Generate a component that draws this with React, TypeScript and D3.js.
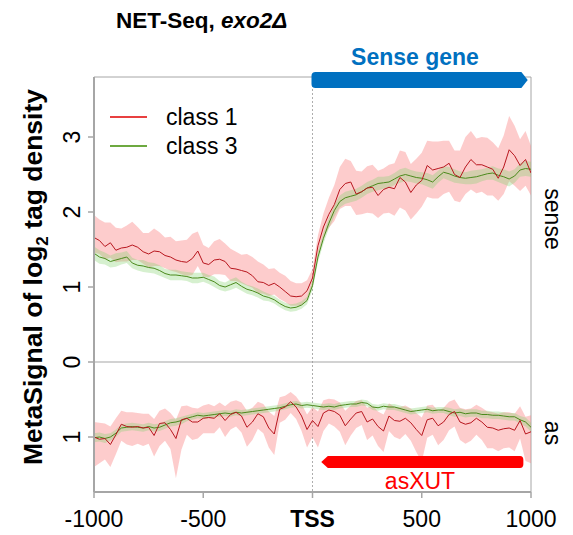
import React from "react";
import * as d3 from "d3";

// x positions: -1000..1000 step 25 (81 points)
const positions: number[] = d3.range(81).map((i) => -1000 + 25 * i);
const xTicks = [-1000, -500, 0, 500, 1000];
const xTickLabels = ["-1000", "-500", "TSS", "500", "1000"];
const senseTicks = [0, 1, 2, 3];
const asTicks = [1];

// Sense panel, class 1 mean and band offsets
const c1Sense = [1.66,1.62,1.54,1.59,1.49,1.52,1.53,1.56,1.53,1.47,
  1.44,1.48,1.47,1.42,1.40,1.36,1.34,1.33,1.38,1.48,
  1.32,1.30,1.36,1.37,1.34,1.25,1.24,1.22,1.20,1.15,
  1.07,1.06,1.02,1.05,1.00,0.94,0.88,0.87,0.88,0.95,
  1.12,1.55,1.80,1.97,2.10,2.30,2.38,2.40,2.24,2.27,
  2.32,2.33,2.22,2.30,2.33,2.31,2.46,2.40,2.26,2.36,
  2.42,2.62,2.56,2.58,2.60,2.65,2.50,2.46,2.60,2.70,
  2.63,2.63,2.60,2.57,2.45,2.60,2.83,2.75,2.62,2.70,2.52];
const c1SenseUp = [0.30,0.28,0.32,0.27,0.30,0.26,0.29,0.31,0.27,0.25,
  0.28,0.30,0.26,0.24,0.27,0.25,0.28,0.30,0.33,0.26,
  0.24,0.22,0.25,0.27,0.24,0.26,0.23,0.21,0.24,0.25,
  0.27,0.24,0.22,0.20,0.19,0.21,0.20,0.18,0.17,0.14,
  0.12,0.14,0.18,0.22,0.26,0.30,0.33,0.28,0.31,0.27,
  0.29,0.30,0.33,0.28,0.30,0.34,0.36,0.40,0.38,0.35,
  0.37,0.33,0.38,0.36,0.35,0.30,0.32,0.36,0.40,0.38,
  0.35,0.37,0.39,0.36,0.40,0.42,0.45,0.40,0.35,0.38,0.36];
const c1SenseDn = [0.20,0.18,0.17,0.20,0.16,0.18,0.19,0.20,0.17,0.16,
  0.18,0.20,0.19,0.17,0.18,0.16,0.17,0.18,0.22,0.20,
  0.18,0.17,0.19,0.20,0.18,0.17,0.16,0.17,0.18,0.16,
  0.15,0.15,0.14,0.15,0.16,0.14,0.13,0.12,0.12,0.11,
  0.10,0.12,0.15,0.18,0.22,0.26,0.30,0.32,0.28,0.30,
  0.33,0.35,0.30,0.32,0.34,0.36,0.40,0.38,0.36,0.38,
  0.35,0.42,0.38,0.40,0.36,0.38,0.35,0.33,0.36,0.40,
  0.38,0.36,0.38,0.35,0.30,0.36,0.42,0.40,0.34,0.35,0.30];

// Sense panel, class 3
const c3Sense = [1.45,1.40,1.38,1.34,1.36,1.38,1.40,1.32,1.29,1.28,
  1.26,1.25,1.22,1.18,1.16,1.16,1.15,1.14,1.12,1.12,
  1.13,1.10,1.07,1.02,1.00,1.03,1.06,1.01,0.97,0.95,
  0.92,0.88,0.86,0.83,0.78,0.74,0.72,0.73,0.76,0.82,
  1.02,1.40,1.65,1.85,2.02,2.14,2.19,2.21,2.23,2.27,
  2.32,2.35,2.38,2.39,2.40,2.44,2.48,2.50,2.48,2.46,
  2.45,2.43,2.40,2.47,2.53,2.51,2.48,2.46,2.45,2.46,
  2.47,2.49,2.51,2.52,2.49,2.47,2.44,2.48,2.56,2.58,2.57];
const c3SenseErr = [0.09,0.09,0.08,0.08,0.09,0.08,0.08,0.07,0.07,0.08,
  0.07,0.07,0.07,0.06,0.07,0.07,0.06,0.06,0.07,0.07,
  0.06,0.06,0.07,0.06,0.06,0.07,0.07,0.06,0.06,0.06,
  0.06,0.06,0.05,0.05,0.05,0.05,0.05,0.05,0.05,0.05,
  0.06,0.07,0.07,0.07,0.08,0.08,0.08,0.08,0.08,0.08,
  0.08,0.08,0.09,0.08,0.08,0.08,0.09,0.09,0.08,0.08,
  0.08,0.09,0.09,0.08,0.08,0.09,0.09,0.08,0.08,0.09,
  0.09,0.08,0.08,0.09,0.09,0.10,0.10,0.09,0.09,0.10,0.10];

// Antisense panel, class 1
const c1As = [1.00,1.03,1.02,1.10,0.97,0.83,0.86,0.87,0.86,0.88,
  0.87,0.98,0.82,0.81,0.90,1.02,0.77,0.75,0.80,0.80,
  0.75,0.74,0.75,0.69,0.78,0.70,0.67,0.72,0.87,0.80,
  0.69,0.73,0.88,0.96,0.63,0.60,0.53,0.60,0.72,0.90,
  0.78,0.86,0.68,0.64,0.66,0.71,0.85,0.76,0.68,0.66,
  0.80,0.76,0.86,0.92,0.72,0.78,0.79,0.75,0.81,0.90,
  0.98,0.77,0.75,0.85,0.80,0.70,0.66,0.80,0.83,0.81,
  0.75,0.80,0.87,0.88,0.91,0.89,0.88,0.91,0.78,0.96,0.93];
const c1AsLo = [0.20,0.22,0.20,0.24,0.22,0.18,0.19,0.20,0.18,0.19,
  0.18,0.22,0.17,0.19,0.22,0.25,0.18,0.17,0.19,0.18,
  0.17,0.18,0.16,0.15,0.19,0.17,0.16,0.18,0.22,0.19,
  0.16,0.17,0.22,0.24,0.16,0.15,0.13,0.14,0.16,0.20,
  0.18,0.20,0.17,0.15,0.16,0.17,0.20,0.18,0.16,0.15,
  0.19,0.18,0.20,0.22,0.17,0.18,0.19,0.17,0.19,0.22,
  0.24,0.19,0.18,0.20,0.19,0.17,0.16,0.19,0.20,0.19,
  0.18,0.19,0.21,0.21,0.22,0.22,0.21,0.22,0.19,0.23,0.22];
const c1AsHi = [0.40,0.32,0.28,0.30,0.26,0.22,0.24,0.25,0.23,0.24,
  0.22,0.28,0.30,0.24,0.26,0.53,0.40,0.22,0.24,0.22,
  0.20,0.21,0.20,0.18,0.22,0.20,0.19,0.22,0.26,0.24,
  0.20,0.22,0.26,0.28,0.18,0.17,0.15,0.16,0.20,0.24,
  0.22,0.28,0.24,0.18,0.20,0.22,0.26,0.22,0.20,0.18,
  0.24,0.22,0.26,0.28,0.20,0.22,0.24,0.21,0.24,0.30,
  0.35,0.24,0.22,0.26,0.24,0.21,0.20,0.24,0.26,0.24,
  0.22,0.24,0.28,0.27,0.28,0.26,0.26,0.28,0.24,0.36,0.42];

// Antisense panel, class 3
const c3As = [1.01,1.00,1.02,1.00,0.95,0.88,0.87,0.86,0.87,0.88,
  0.86,0.88,0.87,0.84,0.81,0.80,0.78,0.75,0.73,0.71,
  0.72,0.71,0.70,0.69,0.68,0.69,0.67,0.68,0.67,0.66,
  0.65,0.64,0.63,0.62,0.61,0.59,0.57,0.56,0.58,0.57,
  0.58,0.59,0.60,0.59,0.60,0.58,0.57,0.56,0.56,0.54,
  0.55,0.60,0.61,0.59,0.60,0.60,0.62,0.64,0.66,0.65,
  0.64,0.63,0.65,0.64,0.64,0.66,0.68,0.67,0.69,0.68,
  0.68,0.70,0.70,0.71,0.71,0.72,0.73,0.73,0.77,0.80,0.87];
const c3AsErr = [0.06,0.06,0.06,0.05,0.05,0.05,0.05,0.05,0.05,0.05,
  0.05,0.05,0.05,0.05,0.05,0.05,0.05,0.04,0.04,0.04,
  0.04,0.04,0.04,0.04,0.04,0.04,0.04,0.04,0.04,0.04,
  0.04,0.04,0.04,0.04,0.04,0.04,0.04,0.04,0.04,0.04,
  0.04,0.04,0.04,0.04,0.04,0.04,0.04,0.04,0.04,0.04,
  0.04,0.04,0.04,0.04,0.04,0.04,0.04,0.04,0.04,0.04,
  0.04,0.04,0.04,0.04,0.04,0.05,0.05,0.05,0.05,0.05,
  0.05,0.05,0.05,0.05,0.05,0.05,0.05,0.05,0.05,0.06,0.06];

const legendLabels = ["class 1", "class 3"];

const FONT = "'Liberation Sans', Arial, Helvetica, sans-serif";
const RED_LINE = "#B8161E";
const RED_BAND = "rgba(250,120,120,0.38)";
const GREEN_LINE = "#4B8A1C";
const GREEN_BAND = "rgba(130,210,110,0.33)";
const AXIS = "#A6A6A6";

export default function App() {
  const left = 94, right = 531, top = 77, mid = 362, bottom = 492;
  const x = d3.scaleLinear().domain([-1000, 1000]).range([left, right]);
  const yS = d3.scaleLinear().domain([0, (mid - top) / 75]).range([mid, top]);
  const yA = d3.scaleLinear().domain([0, (bottom - mid) / 75]).range([mid, bottom]);

  const idx = positions.map((_, i) => i);
  const lineS = (arr: number[]) =>
    d3.line<number>().x((i) => x(positions[i])).y((i) => yS(arr[i]))(idx) || "";
  const lineA = (arr: number[]) =>
    d3.line<number>().x((i) => x(positions[i])).y((i) => yA(arr[i]))(idx) || "";
  const areaS = (m: number[], up: number[], dn: number[]) =>
    d3.area<number>().x((i) => x(positions[i])).y0((i) => yS(m[i] - dn[i])).y1((i) => yS(m[i] + up[i]))(idx) || "";
  const areaA = (m: number[], lo: number[], hi: number[]) =>
    d3.area<number>().x((i) => x(positions[i])).y0((i) => yA(m[i] - lo[i])).y1((i) => yA(m[i] + hi[i]))(idx) || "";

  const x0 = x(0);

  return (
    <svg width={573} height={535} style={{ position: "absolute", left: 0, top: 0 }} fontFamily={FONT}>
      <rect x={0} y={0} width={573} height={535} fill="#fff" />
      <defs>
        <clipPath id="clipS"><rect x={left} y={top} width={right - left} height={mid - top} /></clipPath>
        <clipPath id="clipA"><rect x={left} y={mid} width={right - left} height={bottom - mid} /></clipPath>
      </defs>

      {/* title */}
      <text x={116} y={28} fontSize={22.5} fontWeight="bold" fill="#000">
        NET-Seq, <tspan fontStyle="italic">exo2Δ</tspan>
      </text>

      {/* frame */}
      <line x1={left} x2={right} y1={top} y2={top} stroke={AXIS} strokeWidth={1} />
      <line x1={right} x2={right} y1={top} y2={bottom} stroke={AXIS} strokeWidth={1} />
      <line x1={left} x2={right} y1={mid} y2={mid} stroke={AXIS} strokeWidth={1.2} />
      <line x1={x0} x2={x0} y1={top} y2={bottom} stroke="#999" strokeWidth={0.8} strokeDasharray="2,2" />

      {/* sense panel data */}
      <g clipPath="url(#clipS)">
        <path d={areaS(c1Sense, c1SenseUp, c1SenseDn)} fill={RED_BAND} />
        <path d={areaS(c3Sense, c3SenseErr, c3SenseErr)} fill={GREEN_BAND} />
        <path d={lineS(c3Sense)} fill="none" stroke={GREEN_LINE} strokeWidth={1} />
        <path d={lineS(c1Sense)} fill="none" stroke={RED_LINE} strokeWidth={1} />
      </g>
      {/* antisense panel data */}
      <g clipPath="url(#clipA)">
        <path d={areaA(c1As, c1AsLo, c1AsHi)} fill={RED_BAND} />
        <path d={areaA(c3As, c3AsErr, c3AsErr)} fill={GREEN_BAND} />
        <path d={lineA(c3As)} fill="none" stroke={GREEN_LINE} strokeWidth={1} />
        <path d={lineA(c1As)} fill="none" stroke={RED_LINE} strokeWidth={1} />
      </g>

      {/* axes */}
      <line x1={left} x2={left} y1={top} y2={bottom} stroke={AXIS} strokeWidth={2} />
      <line x1={left} x2={right} y1={bottom} y2={bottom} stroke={AXIS} strokeWidth={2} />
      {senseTicks.map((t) => (
        <g key={"s" + t}>
          <line x1={left - 6} x2={left} y1={yS(t)} y2={yS(t)} stroke={AXIS} strokeWidth={1.5} />
          <text transform={`translate(80,${yS(t)}) rotate(-90)`} textAnchor="middle" fontSize={23} fill="#000">{t}</text>
        </g>
      ))}
      {asTicks.map((t) => (
        <g key={"a" + t}>
          <line x1={left - 6} x2={left} y1={yA(t)} y2={yA(t)} stroke={AXIS} strokeWidth={1.5} />
          <text transform={`translate(80,${yA(t)}) rotate(-90)`} textAnchor="middle" fontSize={23} fill="#000">{t}</text>
        </g>
      ))}
      {xTicks.map((t, i) => (
        <g key={"x" + t}>
          <line x1={x(t)} x2={x(t)} y1={bottom} y2={bottom + 6} stroke={AXIS} strokeWidth={1.5} />
          <text x={x(t)} y={527} textAnchor="middle" fontSize={23} fontWeight={t === 0 ? "bold" : "normal"} fill="#000">
            {xTickLabels[i]}
          </text>
        </g>
      ))}

      {/* y label */}
      <text transform="translate(42,277) rotate(-90)" textAnchor="middle" fontSize={26.5} fontWeight="bold" fill="#000">
        MetaSignal of log<tspan fontSize={17} dy={6}>2</tspan><tspan dy={-6}> tag density</tspan>
      </text>

      {/* right labels */}
      <text transform="translate(545,219) rotate(90)" textAnchor="middle" fontSize={23} fill="#000">sense</text>
      <text transform="translate(545,433) rotate(90)" textAnchor="middle" fontSize={23} fill="#000">as</text>

      {/* sense gene arrow */}
      <path d={`M${x0 + 3},72 L${x(956)},72 L${x(985)},80 L${x(956)},88 L${x0 + 3},88 Q${x0 - 1},88 ${x0 - 1},84 L${x0 - 1},76 Q${x0 - 1},72 ${x0 + 3},72 Z`} fill="#0070C0" />
      <text x={415} y={65} textAnchor="middle" fontSize={23} fontWeight="bold" fill="#0070C0">Sense gene</text>

      {/* asXUT arrow */}
      <path d={`M${x(40)},462 L${x(70)},456 L${x(950)},456 Q${x(965)},456 ${x(965)},460 L${x(965)},464 Q${x(965)},468 ${x(950)},468 L${x(70)},468 Z`} fill="#FF0000" />
      <text x={420} y={489} textAnchor="middle" fontSize={23} fill="#FF0000">asXUT</text>

      {/* legend */}
      {legendLabels.map((l, i) => (
        <g key={l}>
          <line x1={110} x2={147} y1={117 + i * 29} y2={117 + i * 29} stroke={i === 0 ? "#E00000" : "#3C8C00"} strokeWidth={1.5} />
          <text x={166} y={125 + i * 29} fontSize={23} fill="#000">{l}</text>
        </g>
      ))}
    </svg>
  );
}
